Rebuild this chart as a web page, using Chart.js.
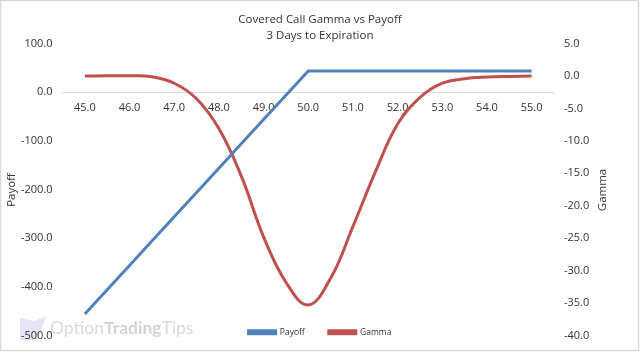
<!DOCTYPE html>
<html>
<head>
<meta charset="utf-8">
<style>
  html, body { margin: 0; padding: 0; background: #fff; }
  #wrap { position: relative; width: 640px; height: 352px; }
  canvas { display: block; }
</style>
<script src="https://cdn.jsdelivr.net/npm/chart.js@4"></script>
</head>
<body>
<div id="wrap"><canvas id="gammaChart" width="640" height="352"></canvas></div>
<script>
const strikes = [45, 45.5, 46, 46.5, 47, 47.5, 48, 48.5, 49, 49.5, 50, 50.5, 51, 51.5, 52, 52.5, 53, 53.5, 54, 54.5, 55];
const payoff = [-456, -406, -356, -306, -256, -206, -156, -106, -56, -6, 44, 44, 44, 44, 44, 44, 44, 44, 44, 44, 44];
const gamma = [0, 0.05, 0.05, -0.1, -1.1, -3.5, -8.1, -15.4, -24.8, -31.8, -35.3, -31.2, -23.2, -14.8, -7.4, -3.3, -1.1, -0.4, -0.15, -0.05, 0];
const titleLines = ['Covered Call Gamma vs Payoff', '3 Days to Expiration'];

const fontName = '"Open Sans", sans-serif';
const textColor = '#333333';
const oneDecimal = v => Number(v).toFixed(1);

// border, watermark, axis titles, and the legend moved over the plot bottom
const decorations = {
    id: 'decorations',
    beforeLayout(chart) {
        // legend must not take layout space, it sits on top of the plot
        const legend = chart.legend;
        if (legend._noSpace) return;
        const fit = legend.fit;
        legend.fit = function () {
            fit.call(this);
            this.height = 0;
        };
        legend._noSpace = true;
    },
    afterLayout(chart) {
        // labels.padding is added above the row, so top sits higher than it looks
        chart.legend.top = 304;
        chart.legend.bottom = 348;
    },
    beforeDraw(chart) {
        const ctx = chart.ctx;
        ctx.save();
        ctx.strokeStyle = '#d9d9d9';
        ctx.lineWidth = 1.5;
        ctx.strokeRect(0.5, 0.5, 638, 350);

        ctx.fillStyle = '#e4e4f4';
        ctx.beginPath();
        ctx.moveTo(20, 318);
        ctx.lineTo(34, 321);
        ctx.lineTo(46, 316);
        ctx.lineTo(38, 340);
        ctx.lineTo(20, 340);
        ctx.closePath();
        ctx.fill();

        ctx.textBaseline = 'alphabetic';
        ctx.textAlign = 'left';
        ctx.font = '400 17.5px Lato, sans-serif';
        ctx.fillStyle = '#dadada';
        ctx.fillText('Option', 50, 334);
        let x = 50 + ctx.measureText('Option').width;
        ctx.font = '700 17.5px Lato, sans-serif';
        ctx.fillStyle = '#d4d4d4';
        ctx.fillText('Trading', x, 334);
        x += ctx.measureText('Trading').width;
        ctx.font = '400 17.5px Lato, sans-serif';
        ctx.fillStyle = '#dadada';
        ctx.fillText('Tips', x, 334);
        ctx.restore();
    },
    afterDraw(chart) {
        const ctx = chart.ctx;
        ctx.save();
        ctx.font = '11.5px ' + fontName;
        ctx.fillStyle = textColor;
        ctx.textAlign = 'center';
        ctx.textBaseline = 'middle';
        [['Payoff', 12, 190], ['Gamma', 603, 190]].forEach(([text, x, y]) => {
            ctx.save();
            ctx.translate(x, y);
            ctx.rotate(-Math.PI / 2);
            ctx.fillText(text, 0, 0);
            ctx.restore();
        });
        ctx.restore();
    }
};

new Chart(document.getElementById('gammaChart').getContext('2d'), {
    type: 'line',
    data: {
        labels: strikes,
        datasets: [
            {
                label: 'Payoff',
                data: payoff,
                yAxisID: 'yPayoff',
                borderColor: '#4f81bd',
                backgroundColor: '#4f81bd',
                borderWidth: 3,
                pointRadius: 0,
                tension: 0
            },
            {
                label: 'Gamma',
                data: gamma,
                yAxisID: 'yGamma',
                borderColor: '#c0504d',
                backgroundColor: '#c0504d',
                borderWidth: 3,
                pointRadius: 0,
                tension: 0.4
            }
        ]
    },
    options: {
        responsive: false,
        animation: false,
        layout: { padding: { top: 7.5, bottom: 15.5 } },
        plugins: {
            title: {
                display: true,
                text: titleLines,
                color: textColor,
                font: { family: fontName, size: 11.5, weight: 'normal', lineHeight: 1.4 },
                padding: { top: 4, bottom: 0 }
            },
            legend: {
                position: 'bottom',
                labels: {
                    boxWidth: 27,
                    boxHeight: 3,
                    padding: 24,
                    color: textColor,
                    font: { family: fontName, size: 8.5 }
                }
            },
            tooltip: { enabled: false }
        },
        scales: {
            x: {
                type: 'linear',
                position: { yPayoff: 0 },
                min: 44.5,
                max: 55.5,
                afterBuildTicks(axis) {
                    // whole strikes only, min and max sit half a step outside them
                    axis.ticks = strikes.filter(Number.isInteger).map(value => ({ value }));
                },
                grid: { display: false, drawTicks: false },
                border: { color: '#d9d9d9' },
                ticks: {
                    stepSize: 1,
                    padding: 9,
                    autoSkip: false,
                    maxRotation: 0,
                    color: textColor,
                    font: { family: fontName, size: 11 },
                    callback: oneDecimal
                }
            },
            yPayoff: {
                position: 'left',
                min: -500,
                max: 100,
                afterFit(axis) { axis.width = 62.5; },
                grid: { display: false, drawTicks: false },
                border: { display: false },
                ticks: {
                    stepSize: 100,
                    padding: 10,
                    color: textColor,
                    font: { family: fontName, size: 11 },
                    callback: oneDecimal
                }
            },
            yGamma: {
                position: 'right',
                min: -40,
                max: 5,
                afterFit(axis) { axis.width = 86; },
                grid: { display: false, drawTicks: false },
                border: { display: false },
                ticks: {
                    stepSize: 5,
                    padding: 10,
                    color: textColor,
                    font: { family: fontName, size: 11 },
                    callback: oneDecimal
                }
            }
        }
    },
    plugins: [decorations]
});
</script>
</body>
</html>
